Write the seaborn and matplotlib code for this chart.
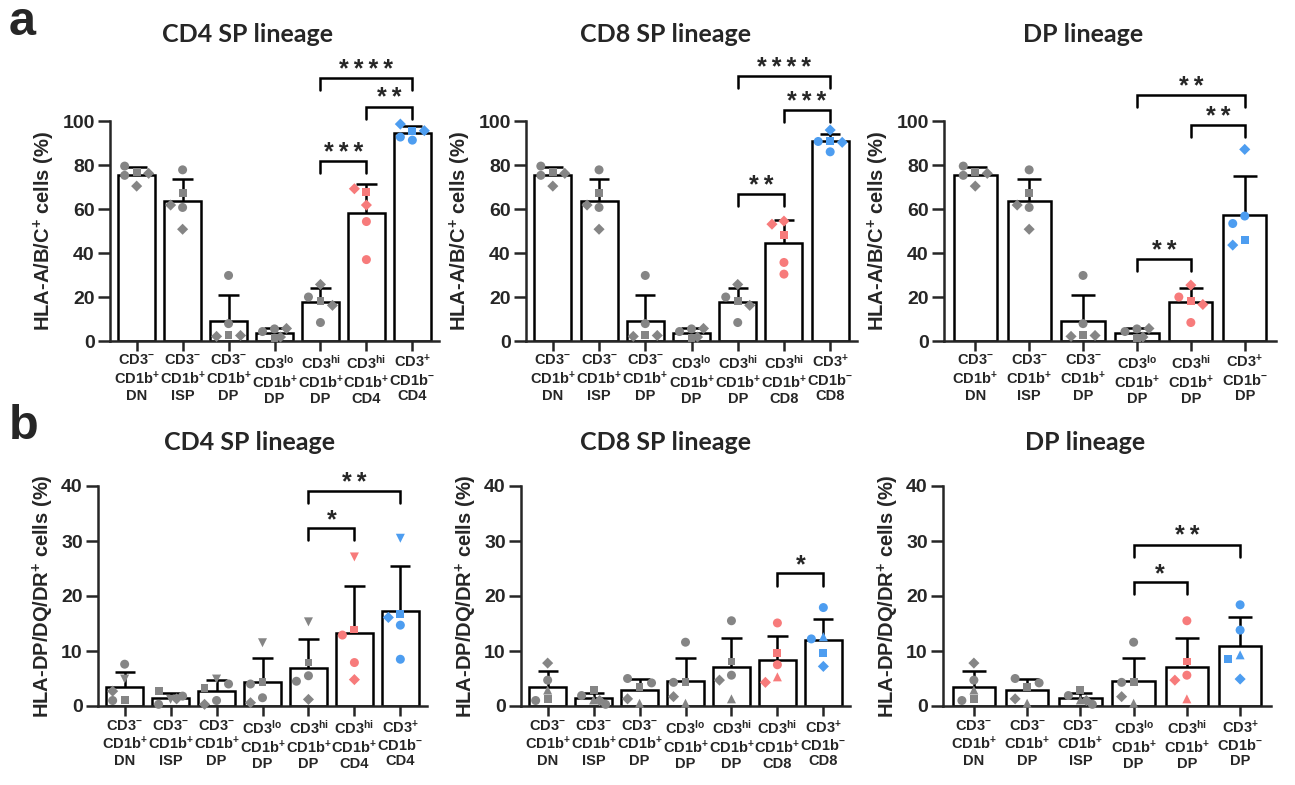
import numpy as np
import pandas as pd
import matplotlib
matplotlib.use("Agg")
import matplotlib.pyplot as plt
import seaborn as sns

# ---------------------------------------------------------------------------
# Group labels (three-line tick labels)
# ---------------------------------------------------------------------------
L_DN = "CD3$^{-}$\nCD1b$^{+}$\nDN"
L_ISP = "CD3$^{-}$\nCD1b$^{+}$\nISP"
L_DP = "CD3$^{-}$\nCD1b$^{+}$\nDP"
L_LO_DP = "CD3$^{lo}$\nCD1b$^{+}$\nDP"
L_HI_DP = "CD3$^{hi}$\nCD1b$^{+}$\nDP"
L_HI_CD4 = "CD3$^{hi}$\nCD1b$^{+}$\nCD4"
L_HI_CD8 = "CD3$^{hi}$\nCD1b$^{+}$\nCD8"
L_POS_CD4 = "CD3$^{+}$\nCD1b$^{-}$\nCD4"
L_POS_CD8 = "CD3$^{+}$\nCD1b$^{-}$\nCD8"
L_POS_DP = "CD3$^{+}$\nCD1b$^{-}$\nDP"

# marker for each of the 5 donors
MARKERS_A = ["s", "o", "o", "D", "D"]
MARKERS_B1 = ["v", "s", "o", "o", "D"]
MARKERS_B2 = ["^", "s", "o", "o", "D"]

# ---------------------------------------------------------------------------
# a: HLA-A/B/C+ cells (%)
# ---------------------------------------------------------------------------
A_CD4_GROUPS = [L_DN, L_ISP, L_DP, L_LO_DP, L_HI_DP, L_HI_CD4, L_POS_CD4]
A_CD4_VALUES = [
    [76.9, 79.5, 75.3, 70.4, 76.2],
    [67.4, 77.8, 60.7, 61.8, 50.8],
    [2.9, 29.8, 7.9, 2.1, 2.5],
    [1.4, 5.5, 4.3, 5.7, 1.8],
    [18.2, 20.0, 8.4, 25.7, 16.2],
    [67.8, 54.3, 37.0, 69.2, 61.8],
    [95.6, 91.3, 92.7, 98.6, 95.6],
]
A_CD4_COLORS = ["gray", "gray", "gray", "gray", "gray", "red", "blue"]
A_CD4_SIG = [(4, 5, 81.8, "***"), (5, 6, 106.5, "**"), (4, 6, 119.5, "****")]

A_CD8_GROUPS = [L_DN, L_ISP, L_DP, L_LO_DP, L_HI_DP, L_HI_CD8, L_POS_CD8]
A_CD8_VALUES = [
    [76.9, 79.5, 75.3, 70.4, 76.2],
    [67.4, 77.8, 60.7, 61.8, 50.8],
    [2.9, 29.8, 7.9, 2.1, 2.5],
    [1.4, 5.5, 4.3, 5.7, 1.8],
    [18.2, 20.0, 8.4, 25.7, 16.2],
    [48.3, 35.7, 30.4, 54.5, 53.1],
    [91.0, 90.7, 86.0, 95.9, 90.3],
]
A_CD8_COLORS = ["gray", "gray", "gray", "gray", "gray", "red", "blue"]
A_CD8_SIG = [(4, 5, 66.8, "**"), (5, 6, 105.0, "***"), (4, 6, 120.5, "****")]

A_DP_GROUPS = [L_DN, L_ISP, L_DP, L_LO_DP, L_HI_DP, L_POS_DP]
A_DP_VALUES = [
    [76.9, 79.5, 75.3, 70.4, 76.2],
    [67.4, 77.8, 60.7, 61.8, 50.8],
    [2.9, 29.8, 7.9, 2.1, 2.5],
    [1.4, 5.5, 4.3, 5.7, 1.8],
    [18.3, 20.0, 8.4, 25.4, 16.6],
    [45.8, 56.8, 53.4, 87.1, 43.6],
]
A_DP_COLORS = ["gray", "gray", "gray", "gray", "red", "blue"]
A_DP_SIG = [(3, 4, 37.2, "**"), (4, 5, 98.2, "**"), (3, 5, 111.8, "**")]

# ---------------------------------------------------------------------------
# b: HLA-DP/DQ/DR+ cells (%)
# ---------------------------------------------------------------------------
B_CD4_GROUPS = [L_DN, L_ISP, L_DP, L_LO_DP, L_HI_DP, L_HI_CD4, L_POS_CD4]
B_CD4_VALUES = [
    [4.9, 1.1, 7.6, 1.0, 2.7],
    [1.2, 2.7, 1.8, 0.3, 1.3],
    [4.9, 3.3, 4.0, 1.0, 0.3],
    [11.5, 4.4, 4.0, 1.5, 0.6],
    [15.3, 7.9, 5.5, 4.5, 1.2],
    [27.1, 13.9, 12.9, 7.9, 4.8],
    [30.5, 16.7, 14.7, 8.5, 16.1],
]
B_CD4_COLORS = ["gray", "gray", "gray", "gray", "gray", "red", "blue"]
B_CD4_SIG = [(4, 5, 32.3, "*"), (4, 6, 39.1, "**")]

B_CD8_GROUPS = [L_DN, L_ISP, L_DP, L_LO_DP, L_HI_DP, L_HI_CD8, L_POS_CD8]
B_CD8_VALUES = [
    [2.9, 1.2, 4.7, 1.0, 7.8],
    [1.1, 2.9, 1.9, 0.3, 1.0],
    [0.5, 3.5, 5.0, 4.2, 1.3],
    [0.5, 4.4, 11.6, 4.3, 1.7],
    [1.3, 8.1, 15.5, 5.6, 4.7],
    [5.3, 9.7, 15.1, 7.5, 4.3],
    [12.6, 9.7, 17.9, 12.2, 7.2],
]
B_CD8_COLORS = ["gray", "gray", "gray", "gray", "gray", "red", "blue"]
B_CD8_SIG = [(5, 6, 24.1, "*")]

B_DP_GROUPS = [L_DN, L_DP, L_ISP, L_LO_DP, L_HI_DP, L_POS_DP]
B_DP_VALUES = [
    [2.9, 1.2, 4.7, 1.0, 7.8],
    [0.5, 3.5, 5.0, 4.2, 1.3],
    [1.1, 2.9, 1.9, 0.3, 1.0],
    [0.5, 4.4, 11.6, 4.3, 1.7],
    [1.3, 8.1, 15.5, 5.6, 4.7],
    [9.3, 8.5, 18.4, 13.8, 4.9],
]
B_DP_COLORS = ["gray", "gray", "gray", "gray", "red", "blue"]
B_DP_SIG = [(3, 4, 22.5, "*"), (3, 5, 29.3, "**")]

YLABEL_A = "HLA-A/B/C$^{+}$ cells (%)"
YLABEL_B = "HLA-DP/DQ/DR$^{+}$ cells (%)"

# ---------------------------------------------------------------------------
# Style
# ---------------------------------------------------------------------------
sns.set_style("ticks")
plt.rcParams["font.family"] = ["Liberation Sans", "DejaVu Sans"]
plt.rcParams["font.weight"] = "bold"
plt.rcParams["mathtext.default"] = "regular"

PALETTE = {"gray": "#858585", "red": "#F77B7B", "blue": "#4D9DF0"}
LW = 1.8
W, H = 1295, 785


def px_rect(left, y0, width, top):
    return [left / W, (H - y0) / H, width / W, (y0 - top) / H]


def spread_offsets(vals, ppu_x, ppu_y, diam=9.0, step=12.0):
    """Place points like a small swarm: centre first, then left/right."""
    cands = [0, -1, 1, -0.5, 0.5]
    placed = []
    xs = []
    for v in vals:
        for c in cands:
            xp, yp = c * step, v * ppu_y
            if all((xp - a) ** 2 + (yp - b) ** 2 >= diam ** 2 for a, b in placed):
                break
        placed.append((xp, yp))
        xs.append(xp / ppu_x)
    return np.array(xs)


def draw_panel(ax, groups, values, colors, markers, ymax, ystep, ylabel, sig):
    n = len(groups)
    df = pd.DataFrame({
        "group": np.repeat(groups, len(markers)),
        "value": np.concatenate(values),
        "marker": markers * n,
        "color": np.repeat([PALETTE[c] for c in colors], len(markers)),
    })

    sns.barplot(data=df, x="group", y="value", order=groups, errorbar=None,
                color="white", saturation=1, edgecolor="black", linewidth=LW,
                width=0.8, ax=ax, zorder=2)

    ax.set_xlim(-0.58, n - 0.42)
    ax.set_ylim(0, ymax)
    bbox = ax.get_position()
    ppu_x = bbox.width * W / (n - 0.42 + 0.58)
    ppu_y = bbox.height * H / ymax

    # mean + SD (upper only, GraphPad style)
    stats = df.groupby("group", sort=False)["value"].agg(["mean", "std"])
    for i, g in enumerate(groups):
        m, s = stats.loc[g, "mean"], stats.loc[g, "std"]
        ax.plot([i, i], [m, m + s], color="black", lw=LW, zorder=3,
                solid_capstyle="butt")
        ax.plot([i - 0.22, i + 0.22], [m + s, m + s], color="black", lw=LW,
                zorder=3, solid_capstyle="butt")

    # individual donors
    df["x"] = 0.0
    for i, g in enumerate(groups):
        idx = df.index[df["group"] == g]
        df.loc[idx, "x"] = i + spread_offsets(df.loc[idx, "value"].values, ppu_x, ppu_y)
    for mk in dict.fromkeys(markers):
        sub = df[df["marker"] == mk]
        size = 32 if mk in ("s", "D") else 42
        ax.scatter(sub["x"], sub["value"], marker=mk, s=size, c=sub["color"],
                   edgecolors="none", zorder=4, clip_on=False)

    # significance brackets
    leg = 0.055 * ymax
    for i, j, y, txt in sig:
        ax.plot([i, i, j, j], [y - leg, y, y, y - leg], color="black", lw=LW,
                clip_on=False, zorder=5, solid_joinstyle="miter")
        ax.annotate("\u2009".join(txt), xy=((i + j) / 2, y), xytext=(0, 1),
                    textcoords="offset points", ha="center", va="baseline",
                    fontsize=18, fontweight="bold", annotation_clip=False)

    ax.set_yticks(np.arange(0, ymax + 0.1, ystep))
    ax.set_xticks(range(n))
    ax.set_xticklabels(groups, fontsize=10.5, fontweight="bold", linespacing=1.15)
    ax.tick_params(axis="y", labelsize=14, length=9, width=LW, direction="out", pad=2)
    ax.tick_params(axis="x", length=7, width=LW, direction="out", pad=2)
    ax.set_xlabel("")
    ax.set_ylabel(ylabel, fontsize=14.5, fontweight="bold", labelpad=4)
    for sp in ("top", "right"):
        ax.spines[sp].set_visible(False)
    for sp in ("left", "bottom"):
        ax.spines[sp].set_linewidth(LW)


fig = plt.figure(figsize=(W / 100, H / 100), dpi=100)
fig.patch.set_facecolor("white")

panels = [
    (px_rect(110, 341, 329, 121), A_CD4_GROUPS, A_CD4_VALUES, A_CD4_COLORS, MARKERS_A, 100, 20, YLABEL_A, A_CD4_SIG),
    (px_rect(526, 341, 331, 121), A_CD8_GROUPS, A_CD8_VALUES, A_CD8_COLORS, MARKERS_A, 100, 20, YLABEL_A, A_CD8_SIG),
    (px_rect(944, 341, 332, 121), A_DP_GROUPS, A_DP_VALUES, A_DP_COLORS, MARKERS_A, 100, 20, YLABEL_A, A_DP_SIG),
    (px_rect(98, 706, 329, 486), B_CD4_GROUPS, B_CD4_VALUES, B_CD4_COLORS, MARKERS_B1, 40, 10, YLABEL_B, B_CD4_SIG),
    (px_rect(521, 706, 329, 486), B_CD8_GROUPS, B_CD8_VALUES, B_CD8_COLORS, MARKERS_B2, 40, 10, YLABEL_B, B_CD8_SIG),
    (px_rect(943, 706, 328, 486), B_DP_GROUPS, B_DP_VALUES, B_DP_COLORS, MARKERS_B2, 40, 10, YLABEL_B, B_DP_SIG),
]
for rect, *args in panels:
    ax = fig.add_axes(rect)
    draw_panel(ax, *args)

# titles and panel letters
TITLE_FONT = dict(fontsize=18, fontweight="bold", family=["Lato", "DejaVu Sans"],
                  ha="center", va="center")
for y_px, centres in ((34, (248, 666, 1083)), (442, (250, 666, 1085))):
    for x_px, t in zip(centres, ("CD4 SP lineage", "CD8 SP lineage", "DP lineage")):
        fig.text(x_px / W, 1 - y_px / H, t, **TITLE_FONT)

fig.text(9 / W, 1 - 0 / H, "a", fontsize=35, fontweight="bold", ha="left", va="top")
fig.text(9 / W, 1 - 404 / H, "b", fontsize=35, fontweight="bold", ha="left", va="top")

fig.savefig("out.png", dpi=100, facecolor="white")
